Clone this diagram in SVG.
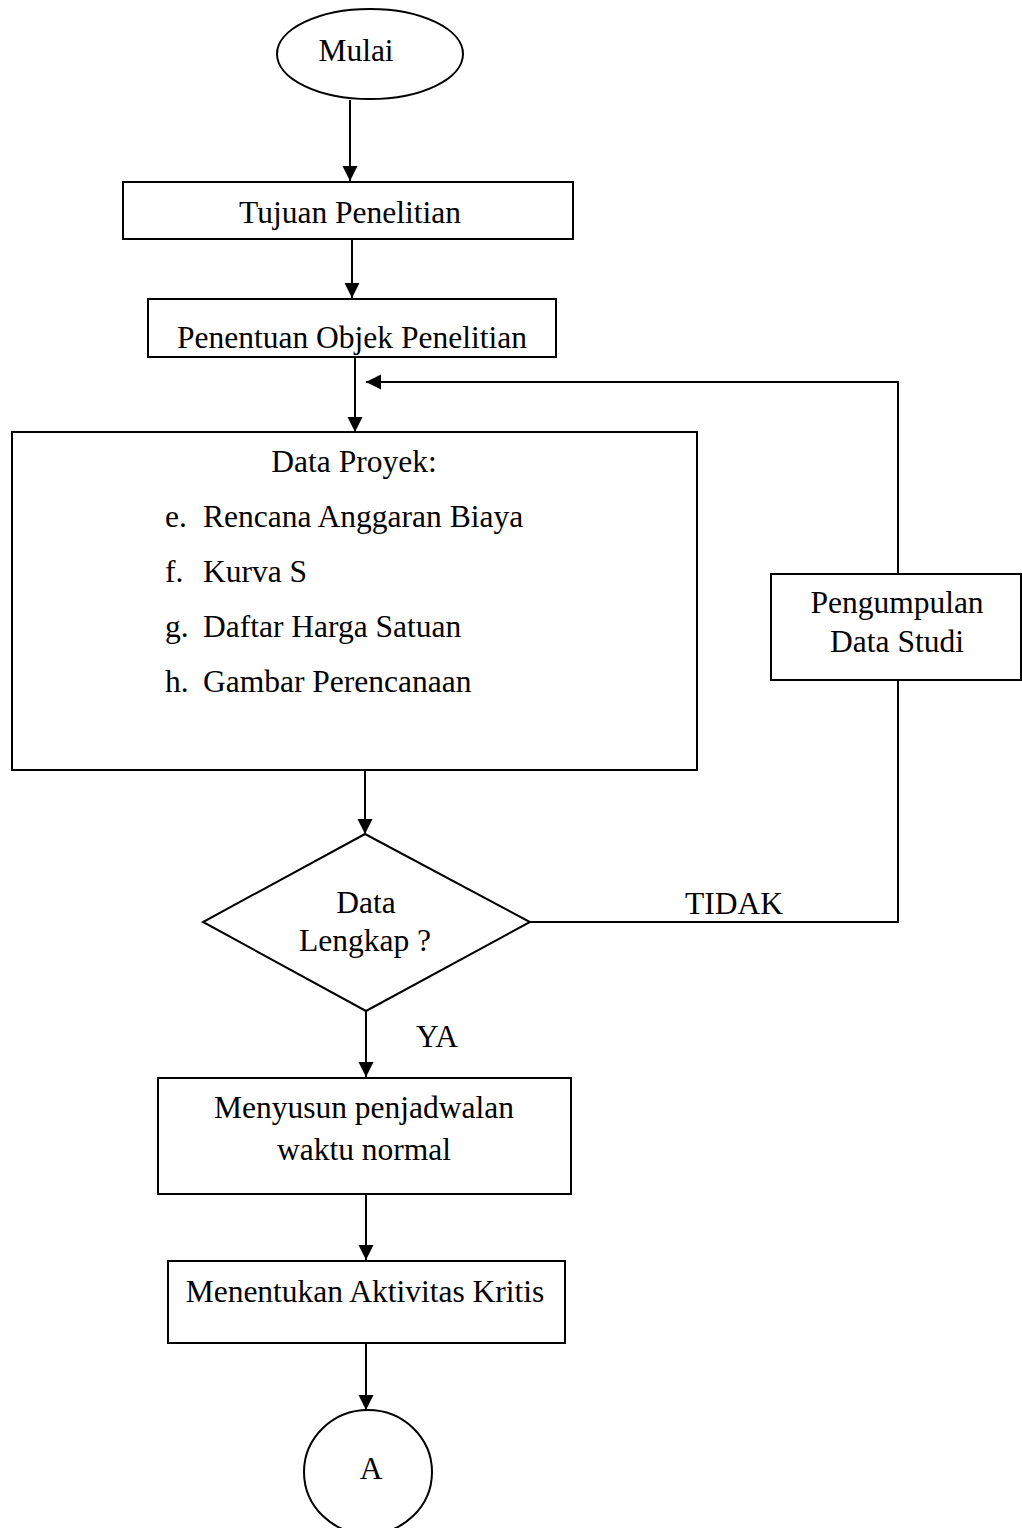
<svg xmlns="http://www.w3.org/2000/svg" width="1022" height="1528" viewBox="0 0 1022 1528">
<defs>
<marker id="arr" markerUnits="userSpaceOnUse" markerWidth="16" markerHeight="16" viewBox="0 0 16 16" refX="15" refY="8" orient="auto">
<path d="M0,0.5 L15,8 L0,15.5 Z" fill="#000"/>
</marker>
<style>
.s{fill:#fff;stroke:#000;stroke-width:2}
.t{font-family:"Liberation Serif","Times New Roman",serif;font-size:31.5px;fill:#000}
.c{text-anchor:middle}
.l{fill:none;stroke:#000;stroke-width:2}
</style>
</defs>
<rect width="1022" height="1528" fill="#fff"/>
<g id="connectors">
<line class="l" x1="350" y1="100" x2="350" y2="181" marker-end="url(#arr)"/>
<line class="l" x1="352" y1="239" x2="352" y2="298" marker-end="url(#arr)"/>
<line class="l" x1="355" y1="357" x2="355" y2="432" marker-end="url(#arr)"/>
<polyline class="l" points="530,922 898,922 898,382 366,382" marker-end="url(#arr)"/>
<line class="l" x1="365" y1="770" x2="365" y2="834" marker-end="url(#arr)"/>
<line class="l" x1="366" y1="1011" x2="366" y2="1077" marker-end="url(#arr)"/>
<line class="l" x1="366" y1="1194" x2="366" y2="1260" marker-end="url(#arr)"/>
<line class="l" x1="366" y1="1342" x2="366" y2="1410" marker-end="url(#arr)"/>
<text class="t" x="685" y="914">TIDAK</text>
<text class="t" x="416" y="1047">YA</text>
</g>
<g id="mulai">
<ellipse class="s" cx="370" cy="54" rx="93" ry="45"/>
<text class="t c" x="356" y="61">Mulai</text>
</g>
<g id="tujuan">
<rect class="s" x="123" y="182" width="450" height="57"/>
<text class="t c" x="350" y="223">Tujuan Penelitian</text>
</g>
<g id="penentuan">
<rect class="s" x="148" y="299" width="408" height="58"/>
<text class="t c" x="352" y="348">Penentuan Objek Penelitian</text>
</g>
<g id="data-proyek">
<rect class="s" x="12" y="432" width="685" height="338"/>
<text class="t c" x="354" y="472">Data Proyek:</text>
<text class="t" x="165" y="527">e.</text><text class="t" x="203" y="527">Rencana Anggaran Biaya</text>
<text class="t" x="165" y="582">f.</text><text class="t" x="203" y="582">Kurva S</text>
<text class="t" x="165" y="637">g.</text><text class="t" x="203" y="637">Daftar Harga Satuan</text>
<text class="t" x="165" y="692">h.</text><text class="t" x="203" y="692">Gambar Perencanaan</text>
</g>
<g id="pengumpulan">
<rect class="s" x="771" y="574" width="250" height="106"/>
<text class="t c" x="897" y="613">Pengumpulan</text>
<text class="t c" x="897" y="652">Data Studi</text>
</g>
<g id="keputusan">
<polygon class="s" points="365,834 530,922 366,1011 203,922"/>
<text class="t c" x="366" y="913">Data</text>
<text class="t c" x="365" y="951">Lengkap ?</text>
</g>
<g id="menyusun">
<rect class="s" x="158" y="1078" width="413" height="116"/>
<text class="t c" x="364" y="1118">Menyusun penjadwalan</text>
<text class="t c" x="364" y="1160">waktu normal</text>
</g>
<g id="menentukan">
<rect class="s" x="168" y="1261" width="397" height="82"/>
<text class="t c" x="365" y="1302">Menentukan Aktivitas Kritis</text>
</g>
<g id="konektor-a">
<ellipse class="s" cx="368" cy="1472" rx="64" ry="62"/>
<text class="t c" x="371" y="1479">A</text>
</g>
</svg>
